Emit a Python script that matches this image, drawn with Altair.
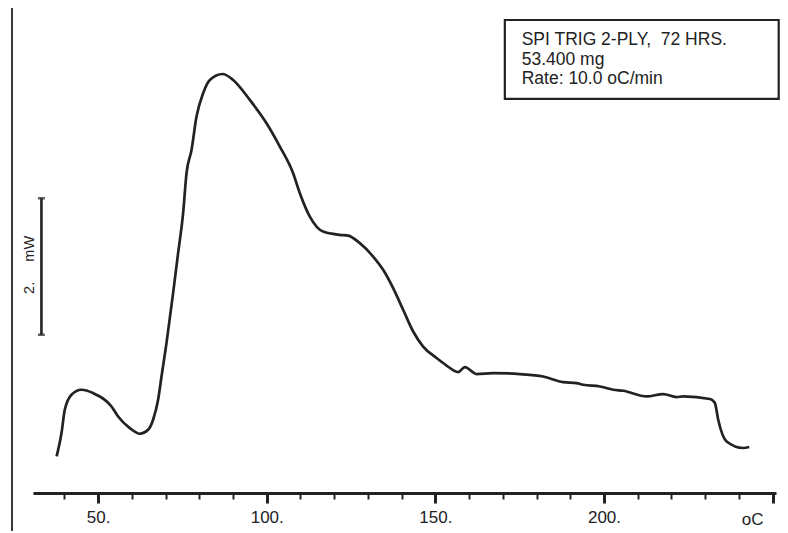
import altair as alt
import pandas as pd

# ---- curve data (temperature in oC, heat flow in mW) ----
temps = [37.7, 39.15, 40.12, 42.11, 45.08, 48.52, 53.97, 55.93, 59.40, 62.37,
         64.83, 66.31, 67.79, 68.80, 70.28, 72.24, 73.72, 75.21, 76.22, 77.70,
         79.18, 81.14, 83.13, 86.89, 90.04, 94.99, 99.94, 103.89, 107.83, 109.82,
         112.78, 116.73, 121.66, 124.14, 127.61, 131.55, 134.52, 137.48, 140.45, 143.42,
         146.38, 150.36, 153.32, 156.76, 158.75, 162.22, 167.14, 175.06, 181.97, 187.90,
         191.87, 193.83, 198.78, 202.73, 205.69, 212.63, 217.56, 221.53, 223.49, 231.40,
         232.88, 233.86, 236.36, 241.28, 243.06]
heat = [0.536, 0.878, 1.219, 1.439, 1.512, 1.463, 1.267, 1.121, 0.951, 0.868,
        0.926, 1.073, 1.365, 1.706, 2.195, 2.927, 3.512, 4.098, 4.683, 5.024,
        5.512, 5.854, 6.049, 6.136, 6.049, 5.756, 5.415, 5.073, 4.683, 4.390,
        4.048, 3.828, 3.780, 3.770, 3.659, 3.463, 3.268, 3.000, 2.683, 2.365,
        2.145, 1.976, 1.867, 1.771, 1.844, 1.742, 1.756, 1.742, 1.706, 1.624,
        1.610, 1.585, 1.560, 1.512, 1.497, 1.414, 1.449, 1.405, 1.414, 1.376,
        1.317, 1.073, 0.755, 0.659, 0.673]

tick_values = list(range(40, 251, 10))
major_step = 50
unit_label = ["oC"]
NB = "\u00a0"
legend_lines = [f"SPI TRIG 2-PLY,{NB}{NB}72 HRS.", "53.400 mg", "Rate: 10.0 oC/min"]
scale_bar_mw = [2.317, 4.317]
scale_label = [f"2.{NB * 5}mW"]

FONT = "Liberation Sans"
INK = "#222222"

x_scale = alt.Scale(domain=[30.7, 251], nice=False, zero=False)
y_scale = alt.Scale(domain=[0, 7], nice=False, zero=False)

x_axis = alt.Axis(
    values=tick_values,
    title=None,
    grid=False,
    domainColor=INK,
    domainWidth=3,
    tickColor=INK,
    tickSize={"condition": {"test": f"datum.value % {major_step} === 0", "value": 10}, "value": 6},
    tickWidth={"condition": {"test": f"datum.value % {major_step} === 0", "value": 3}, "value": 2},
    labelExpr=f"datum.value % {major_step} === 0 && datum.value < 250 ? datum.value + '.' : ''",
    labelFont=FONT,
    labelFontSize=17,
    labelColor=INK,
    labelPadding=6,
    labelFlush=False,
    labelOverlap=False,
)


def X(field="T"):
    return alt.X(f"{field}:Q", scale=x_scale, axis=x_axis)


def Y(field="V"):
    return alt.Y(f"{field}:Q", scale=y_scale, axis=None)


curve_df = pd.DataFrame({"T": temps, "V": heat})
curve = alt.Chart(curve_df).mark_line(
    color=INK, strokeWidth=2.7, interpolate="monotone"
).encode(x=X(), y=Y())

# scale bar (2 mW)
bar_df = pd.DataFrame({"T": [33.2], "V": [scale_bar_mw[0]], "V2": [scale_bar_mw[1]]})
bar = alt.Chart(bar_df).mark_rule(color=INK, strokeWidth=2.6).encode(
    x=X(), y=Y(), y2="V2:Q"
)
caps_df = pd.DataFrame({"T": [33.2, 33.2], "V": scale_bar_mw})
caps = alt.Chart(caps_df).mark_tick(
    color=INK, orient="horizontal", size=7, thickness=2.5
).encode(x=X(), y=Y())
bar_text_df = pd.DataFrame({"T": [30.93], "V": [3.34], "label": scale_label})
bar_text = alt.Chart(bar_text_df).mark_text(
    angle=270, align="center", baseline="alphabetic", font=FONT, fontSize=14.5, color=INK
).encode(x=X(), y=Y(), text="label:N")

# legend box
box_df = pd.DataFrame({"T": [170.6], "T2": [251.8], "V": [5.771], "V2": [6.927]})
box = alt.Chart(box_df).mark_rect(
    fill="white", stroke=INK, strokeWidth=2.2
).encode(x=X(), x2="T2:Q", y=Y(), y2="V2:Q")
legend_df = pd.DataFrame({"T": [175.6] * 3, "V": [6.561, 6.268, 5.990], "label": legend_lines})
legend_text = alt.Chart(legend_df).mark_text(
    align="left", baseline="alphabetic", font=FONT, fontSize=17.5, color=INK
).encode(x=X(), y=Y(), text="label:N")

# unit label at the end of the axis
unit_df = pd.DataFrame({"T": [244.1], "V": [-0.475], "label": unit_label})
unit_text = alt.Chart(unit_df).mark_text(
    align="center", baseline="alphabetic", font=FONT, fontSize=17, color=INK
).encode(x=X(), y=Y(), text="label:N")

# scanned page frame (left edge)
frame = alt.Chart(pd.DataFrame({"a": [0]})).mark_rule(color="#3a3a3a", strokeWidth=2).encode(
    x=alt.value(-21), y=alt.value(-10), y2=alt.value(525)
)

chart = alt.layer(
    curve, bar, caps, bar_text, box, legend_text, unit_text, frame
).properties(
    width=743,
    height=478,
    padding={"left": 25, "right": 4, "top": 7, "bottom": 38},
    autosize=alt.AutoSizeParams(type="none"),
    background="white",
).configure_view(stroke=None)

chart.save("out.html", embed_options={"renderer": "svg", "actions": False})
